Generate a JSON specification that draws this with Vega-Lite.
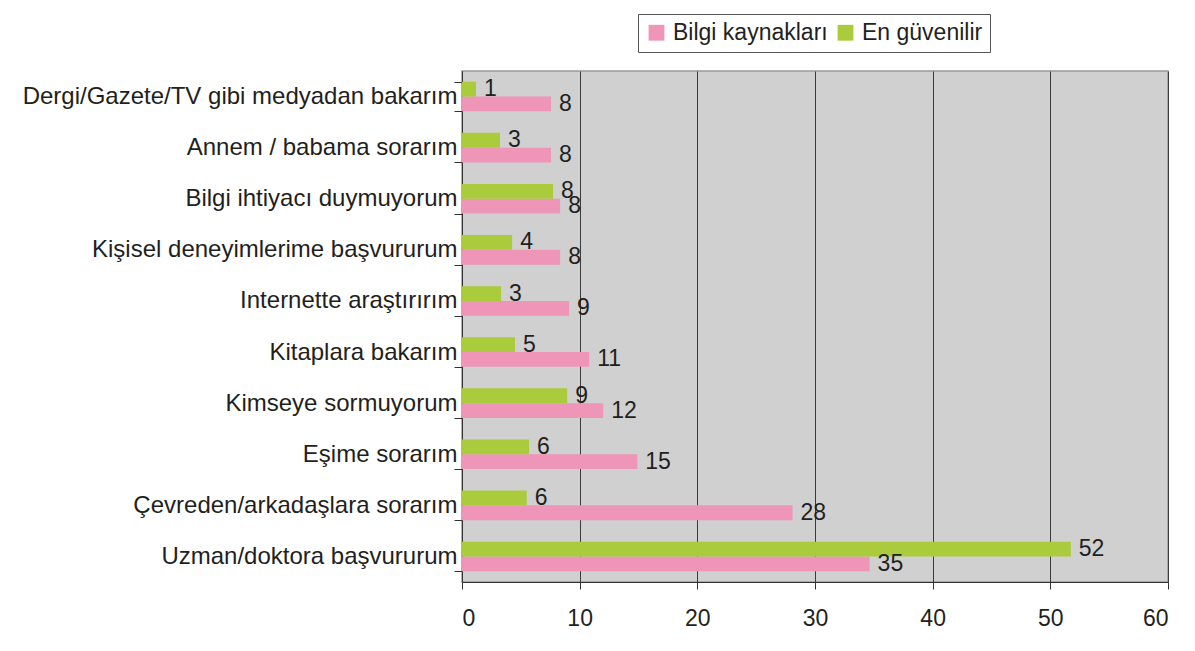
{
  "$schema": "https://vega.github.io/schema/vega-lite/v6.json",
  "width": 706,
  "height": 511,
  "autosize": {"type": "none"},
  "padding": {"left": 462, "top": 71, "right": 27, "bottom": 69},
  "background": "#ffffff",
  "data": {
    "values": [
      {"cat": "Dergi/Gazete/TV gibi medyadan bakarım", "series": "Bilgi kaynakları", "value": 7.57},
      {"cat": "Dergi/Gazete/TV gibi medyadan bakarım", "series": "En güvenilir", "value": 1.19},
      {"cat": "Annem / babama sorarım", "series": "Bilgi kaynakları", "value": 7.57},
      {"cat": "Annem / babama sorarım", "series": "En güvenilir", "value": 3.23},
      {"cat": "Bilgi ihtiyacı duymuyorum", "series": "Bilgi kaynakları", "value": 8.34},
      {"cat": "Bilgi ihtiyacı duymuyorum", "series": "En güvenilir", "value": 7.74},
      {"cat": "Kişisel deneyimlerime başvururum", "series": "Bilgi kaynakları", "value": 8.34},
      {"cat": "Kişisel deneyimlerime başvururum", "series": "En güvenilir", "value": 4.26},
      {"cat": "Internette araştırırım", "series": "Bilgi kaynakları", "value": 9.1},
      {"cat": "Internette araştırırım", "series": "En güvenilir", "value": 3.32},
      {"cat": "Kitaplara bakarım ", "series": "Bilgi kaynakları", "value": 10.81},
      {"cat": "Kitaplara bakarım ", "series": "En güvenilir", "value": 4.5},
      {"cat": "Kimseye sormuyorum", "series": "Bilgi kaynakları", "value": 12.0},
      {"cat": "Kimseye sormuyorum", "series": "En güvenilir", "value": 8.94},
      {"cat": "Eşime sorarım ", "series": "Bilgi kaynakları", "value": 14.9},
      {"cat": "Eşime sorarım ", "series": "En güvenilir", "value": 5.7},
      {"cat": "Çevreden/arkadaşlara sorarım", "series": "Bilgi kaynakları", "value": 28.09},
      {"cat": "Çevreden/arkadaşlara sorarım", "series": "En güvenilir", "value": 5.5},
      {"cat": "Uzman/doktora başvururum", "series": "Bilgi kaynakları", "value": 34.64},
      {"cat": "Uzman/doktora başvururum", "series": "En güvenilir", "value": 51.74}
    ]
  },
  "encoding": {
    "y": {
      "field": "cat",
      "type": "nominal",
      "sort": null,
      "scale": {"paddingInner": 0.42, "paddingOuter": 0.21},
      "axis": {
        "title": null,
        "tickBand": "extent",
        "tickSize": 8,
        "labelPadding": -3,
        "labelFontSize": 24,
        "labelFont": "Liberation Sans",
        "labelColor": "#231f20",
        "labelLimit": 600,
        "domainColor": "#333333",
        "tickColor": "#333333",
        "grid": false
      }
    },
    "yOffset": {
      "field": "series",
      "type": "nominal",
      "sort": ["En güvenilir", "Bilgi kaynakları"],
      "scale": {"paddingInner": 0, "paddingOuter": 0}
    },
    "x": {
      "field": "value",
      "type": "quantitative",
      "scale": {"domain": [0, 60], "nice": false},
      "axis": {
        "title": null,
        "values": [0, 10, 20, 30, 40, 50, 60],
        "tickSize": 7,
        "labelPadding": 18,
        "labelFontSize": 23,
        "labelFont": "Liberation Sans",
        "labelColor": "#231f20",
        "domainColor": "#333333",
        "tickColor": "#333333",
        "grid": true,
        "gridColor": "#3a3a3a",
        "gridWidth": 1
      }
    }
  },
  "layer": [
    {
      "mark": {"type": "bar"},
      "encoding": {
        "color": {
          "field": "series",
          "type": "nominal",
          "scale": {"domain": ["Bilgi kaynakları", "En güvenilir"], "range": ["#ee95b8", "#aacb3b"]},
          "legend": {
            "title": null,
            "orient": "none",
            "legendX": 176,
            "legendY": -57,
            "direction": "horizontal",
            "strokeColor": "#555555",
            "fillColor": "#ffffff",
            "padding": 7,
            "symbolType": "square",
            "symbolSize": 250,
            "symbolStrokeWidth": 0,
            "labelFontSize": 23,
            "labelFont": "Liberation Sans",
            "labelColor": "#231f20",
            "labelOffset": 5,
            "columnPadding": 6
          }
        }
      }
    },
    {
      "mark": {"type": "text", "align": "left", "baseline": "middle", "dx": 8, "fontSize": 23, "font": "Liberation Sans", "color": "#231f20"},
      "encoding": {
        "text": {"field": "value", "type": "quantitative", "format": ".0f"}
      }
    }
  ],
  "config": {
    "view": {"fill": "#d0d0d0", "stroke": "#999999", "strokeWidth": 1.5}
  }
}
